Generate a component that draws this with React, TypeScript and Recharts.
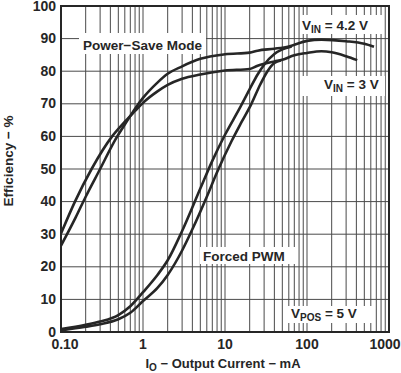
import { LineChart, Line, XAxis, YAxis, CartesianGrid, ReferenceArea } from 'recharts';

// Efficiency vs output current, VPOS = 5 V
const ps42Current = [0.1, 0.15, 0.2, 0.3, 0.46, 0.65, 0.8, 1, 1.5, 2, 3, 5, 10, 20, 25, 40, 60, 100, 150, 300, 500, 656];
const ps42Eff = [26.5, 35, 41.5, 50, 59, 65, 68.5, 71.8, 76.5, 79.2, 81.5, 83.8, 85.2, 85.7, 86.3, 86.9, 87.6, 89.3, 89.7, 89.2, 88.4, 87.5];

const ps3Current = [0.1, 0.148, 0.236, 0.42, 0.6, 0.8, 1, 1.5, 2, 3, 5, 10, 20, 25, 30, 40, 50, 70, 100, 150, 200, 300, 410];
const ps3Eff = [30.2, 40, 50, 60, 64.5, 67.8, 70.3, 73.8, 75.8, 77.7, 79, 80.2, 80.7, 81.7, 82.3, 83, 83.5, 84.9, 85.6, 86.1, 85.8, 84.6, 83.4];

const pwm42Current = [0.1, 0.2, 0.3, 0.5, 0.7, 1, 1.5, 2, 3, 5, 7, 10, 15, 20, 25, 30, 40, 50, 65];
const pwm42Eff = [0.9, 2.2, 3.2, 5.2, 7.9, 12.2, 17.5, 22, 31, 44, 52.5, 60.5, 68.5, 74.5, 79, 82, 85.3, 86.7, 87.6];

const pwm3Current = [0.1, 0.2, 0.3, 0.5, 0.7, 1, 1.5, 2, 3, 4, 6, 8, 12, 16, 21, 27, 33, 40, 48];
const pwm3Eff = [0.5, 1.6, 2.4, 3.9, 5.9, 9.5, 13.5, 17.5, 25, 31.5, 41.5, 49, 58.5, 64.5, 70, 76, 80, 82.5, 83.3];

const xTicks = [
  0.1, 0.2, 0.3, 0.4, 0.5, 0.6, 0.7, 0.8, 0.9,
  1, 2, 3, 4, 5, 6, 7, 8, 9,
  10, 20, 30, 40, 50, 60, 70, 80, 90,
  100, 200, 300, 400, 500, 600, 700, 800, 900, 1000,
];
const xLabels: Record<number, string> = { 0.1: '0.10', 1: '1', 10: '10', 100: '100', 1000: '1000' };
const yTicks = [0, 10, 20, 30, 40, 50, 60, 70, 80, 90, 100];

const toPoints = (xs: number[], ys: number[]) => xs.map((x, i) => ({ x, y: ys[i] }));

const FONT = '"Liberation Sans", Arial, Helvetica, sans-serif';
const INK = '#262626';

const XTick = (props: any) => {
  const { x, y, payload } = props;
  const label = xLabels[payload.value];
  if (!label) return null;
  const dx = payload.value === 1000 ? -4 : payload.value === 0.1 ? 4 : 0;
  return (
    <text x={x + dx} y={y + 9} textAnchor="middle" fontFamily={FONT} fontWeight="bold" fontSize={14} fill={INK}>
      {label}
    </text>
  );
};

const YTick = (props: any) => {
  const { x, y, payload } = props;
  return (
    <text x={x} y={y + 4.5} textAnchor="end" fontFamily={FONT} fontWeight="bold" fontSize={14} fill={INK}>
      {payload.value}
    </text>
  );
};

const Overlay = () => (
  <svg width={401} height={373} style={{ position: 'absolute', left: 0, top: 0, pointerEvents: 'none' }}>
    <g fontFamily={FONT} fontWeight="bold" fontSize={13.5} fill={INK}>
      <rect x={79} y={33} width={127} height={21} fill="#fff" />
      <text x={83} y={50}>Power−Save Mode</text>

      <rect x={300} y={15} width={82} height={19} fill="#fff" />
      <text x={302} y={30}>
        V<tspan fontSize={10} dy={3}>IN</tspan>
        <tspan dy={-3}> = 4.2 V</tspan>
      </text>

      <rect x={300} y={76} width={85} height={20} fill="#fff" />
      <text x={324} y={89}>
        V<tspan fontSize={10} dy={3}>IN</tspan>
        <tspan dy={-3}> = 3 V</tspan>
      </text>

      <rect x={200} y={247} width={95} height={17} fill="#fff" />
      <text x={203} y={261}>Forced PWM</text>

      <rect x={288} y={306} width={87} height={17} fill="#fff" />
      <text x={291} y={318}>
        V<tspan fontSize={10} dy={3}>POS</tspan>
        <tspan dy={-3}> = 5 V</tspan>
      </text>

      <text x={13} y={161} textAnchor="middle" transform="rotate(-90 13 161)">Efficiency − %</text>
      <text x={223} y={368} textAnchor="middle" fontSize={13}>
        I<tspan fontSize={10} dy={3}>O</tspan>
        <tspan dy={-3}> − Output Current − mA</tspan>
      </text>
    </g>
  </svg>
);

export default function App() {
  return (
    <div style={{ position: 'relative', width: 401, height: 373, background: '#fff' }}>
      <style>{'body{margin:0}'}</style>
      <LineChart width={401} height={373} margin={{ top: 6, right: 12, bottom: 0, left: 0 }}>
        <CartesianGrid stroke="#4a4a4a" strokeWidth={1} />
        <XAxis
          dataKey="x"
          type="number"
          scale="log"
          domain={[0.1, 1000]}
          ticks={xTicks}
          interval={0}
          height={41}
          tickLine={false}
          axisLine={false}
          tick={<XTick />}
          allowDataOverflow
        />
        <YAxis
          type="number"
          domain={[0, 100]}
          ticks={yTicks}
          interval={0}
          width={61}
          tickLine={false}
          axisLine={false}
          tickSize={5}
          tickMargin={0}
          tick={<YTick />}
        />
        <ReferenceArea x1={0.1} x2={1000} y1={0} y2={100} fill="none" stroke={INK} strokeWidth={2} />
        <Line data={toPoints(ps42Current, ps42Eff)} dataKey="y" type="monotone" stroke={INK} strokeWidth={2.6} dot={false} isAnimationActive={false} />
        <Line data={toPoints(ps3Current, ps3Eff)} dataKey="y" type="monotone" stroke={INK} strokeWidth={2.6} dot={false} isAnimationActive={false} />
        <Line data={toPoints(pwm42Current, pwm42Eff)} dataKey="y" type="monotone" stroke={INK} strokeWidth={2.6} dot={false} isAnimationActive={false} />
        <Line data={toPoints(pwm3Current, pwm3Eff)} dataKey="y" type="monotone" stroke={INK} strokeWidth={2.6} dot={false} isAnimationActive={false} />
      </LineChart>
      <Overlay />
    </div>
  );
}
